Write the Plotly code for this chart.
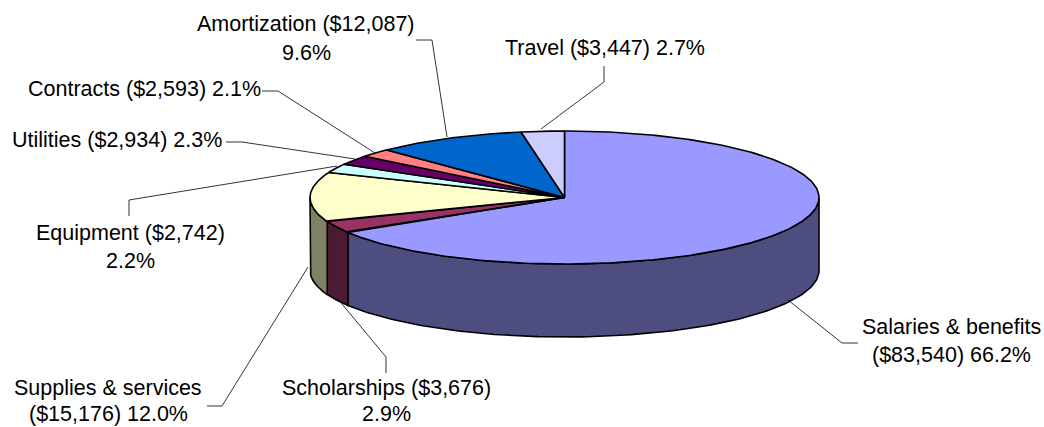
import numpy as np
import plotly.graph_objects as go

categories = ["Salaries & benefits", "Scholarships", "Supplies & services", "Equipment",
              "Utilities", "Contracts", "Amortization", "Travel"]
amounts = [83540, 3676, 15176, 2742, 2934, 2593, 12087, 3447]
percent_labels = ["66.2%", "2.9%", "12.0%", "2.2%", "2.3%", "2.1%", "9.6%", "2.7%"]
top_colors = ["#9999FF", "#993366", "#FFFFCC", "#CCFFFF", "#660066", "#FF8080", "#0066CC", "#CCCCFF"]
side_colors = ["#4D4D80", "#4D1A33", "#808066", "#668080", "#330033", "#804040", "#003366", "#666680"]

# pie geometry in page pixels
CX, CY, RX, RY, DEPTH = 564.5, 197.5, 254.5, 66.5, 73

label_lines = [
    [("Salaries & benefits", 951, 327), ("($83,540) 66.2%", 951, 355)],
    [("Scholarships ($3,676)", 386, 388), ("2.9%", 386, 414)],
    [("Supplies & services", 108, 388), ("($15,176) 12.0%", 108, 414)],
    [("Equipment ($2,742)", 130, 233), ("2.2%", 130, 261)],
    [("Utilities ($2,934) 2.3%", 117, 140)],
    [("Contracts ($2,593) 2.1%", 144, 89)],
    [("Amortization ($12,087)", 306, 24), ("9.6%", 306, 53)],
    [("Travel ($3,447) 2.7%", 605, 48)],
]
leaders = [
    [(788, 300), (842, 343), (858, 343)],
    [(337, 298), (386, 357), (386, 373)],
    [(308, 267), (222, 406), (207, 406)],
    [(337, 166), (129, 200), (129, 216)],
    [(355, 159), (242, 142), (226, 142)],
    [(375, 153), (278, 91), (262, 91)],
    [(447, 137), (432, 40), (416, 40)],
    [(541, 129), (604, 82), (604, 66)],
]


def px(theta):
    return CX + RX * np.sin(theta), CY - RY * np.cos(theta)


fractions = np.array(amounts) / sum(amounts)
edges = np.concatenate([[0], np.cumsum(fractions)]) * 2 * np.pi
fig = go.Figure()


def poly(x, y, fill, name, lw=1.6):
    fig.add_trace(go.Scatter(x=list(x), y=list(y), mode="lines", fill="toself", fillcolor=fill,
                             line=dict(color="black", width=lw), name=name,
                             hoverinfo="name", showlegend=False))


# sides (front half only)
for i, name in enumerate(categories):
    a, b = max(edges[i], np.pi / 2), min(edges[i + 1], 3 * np.pi / 2)
    if b <= a:
        continue
    t = np.linspace(a, b, 120)
    x, y = px(t)
    poly(np.r_[x, x[::-1], x[0]], np.r_[y, y[::-1] + DEPTH, y[0]], side_colors[i], name)

# tops
for i, name in enumerate(categories):
    t = np.linspace(edges[i], edges[i + 1], 240)
    x, y = px(t)
    poly(np.r_[CX, x, CX], np.r_[CY, y, CY], top_colors[i], name)

# leader lines
for pts in leaders:
    fig.add_trace(go.Scatter(x=[p[0] for p in pts], y=[p[1] for p in pts], mode="lines",
                             line=dict(color="black", width=0.8), hoverinfo="skip", showlegend=False))

for lines in label_lines:
    for text, x, y in lines:
        fig.add_annotation(x=x, y=y, text=text, showarrow=False, xanchor="center", yanchor="middle",
                           font=dict(family="Liberation Sans", size=21.5, color="black"))

fig.update_layout(width=1044, height=427, margin=dict(l=0, r=0, t=0, b=0), autosize=False,
                  paper_bgcolor="white", plot_bgcolor="white", showlegend=False,
                  xaxis=dict(range=[0, 1044], visible=False, fixedrange=True),
                  yaxis=dict(range=[427, 0], visible=False, fixedrange=True))
fig.write_html("out.html", config={"displayModeBar": False},
               post_script="document.body.style.margin='0';document.body.style.overflow='hidden';")
